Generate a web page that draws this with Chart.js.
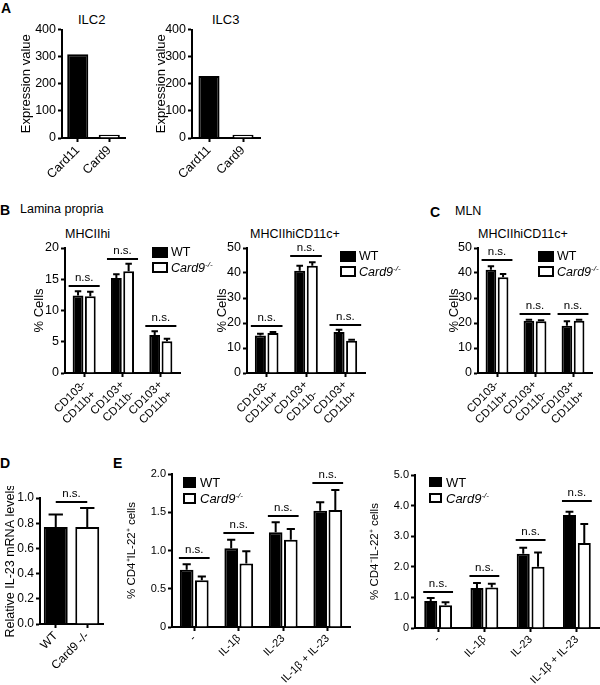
<!DOCTYPE html>
<html>
<head>
<meta charset="utf-8">
<script src="https://cdn.jsdelivr.net/npm/chart.js@4"></script>
<style>
  body { margin: 0; background: #fff; }
  #page { position: relative; width: 600px; height: 685px; overflow: hidden; font-family: "Liberation Sans", Arial, sans-serif; color: #000; }
  .box { position: absolute; }
  .txt { position: absolute; line-height: 1; white-space: nowrap; }
  .letter { font-weight: bold; font-size: 14px; }
  .sq { position: absolute; box-sizing: border-box; border: 2px solid #000; background: #fff; }
  .sq.wt { background: #000; }
  sup { font-size: 8px; vertical-align: 5px; }
</style>
</head>
<body>
<div id="page">
  <div class="txt letter" style="left:1px;top:1px">A</div>
  <div class="txt" style="left:78px;top:13px;font-size:13px">ILC2</div>
  <div class="txt" style="left:212px;top:13px;font-size:13px">ILC3</div>

  <div class="txt letter" style="left:0px;top:203px">B</div>
  <div class="txt" style="left:20px;top:203px;font-size:12.5px">Lamina propria</div>
  <div class="txt letter" style="left:430px;top:205px">C</div>
  <div class="txt" style="left:455px;top:205px;font-size:12.5px">MLN</div>
  <div class="txt" style="left:65px;top:228px;font-size:12.5px">MHCIIhi</div>
  <div class="txt" style="left:250px;top:228px;font-size:12.5px">MHCIIhiCD11c+</div>
  <div class="txt" style="left:478px;top:228px;font-size:12.5px">MHCIIhiCD11c+</div>

  <div class="txt letter" style="left:0px;top:456px">D</div>
  <div class="txt letter" style="left:113px;top:456px">E</div>

  <div class="box" style="left:0;top:20px"><canvas id="ilc2" width="130" height="170"></canvas></div>
  <div class="box" style="left:140px;top:20px"><canvas id="ilc3" width="125" height="170"></canvas></div>
  <div class="box" style="left:0;top:236px"><canvas id="lp1" width="185" height="200"></canvas></div>
  <div class="box" style="left:190px;top:236px"><canvas id="lp2" width="180" height="200"></canvas></div>
  <div class="box" style="left:420px;top:236px"><canvas id="mln" width="177" height="200"></canvas></div>
  <div class="box" style="left:0;top:486px"><canvas id="il23" width="108" height="199"></canvas></div>
  <div class="box" style="left:110px;top:462px"><canvas id="e1" width="245" height="223"></canvas></div>
  <div class="box" style="left:355px;top:463px"><canvas id="e2" width="245" height="222"></canvas></div>

  <!-- legends -->
  <div class="sq wt" style="left:152px;top:247px;width:16px;height:11px"></div>
  <div class="txt" style="left:171px;top:246px;font-size:12.5px">WT</div>
  <div class="sq" style="left:152px;top:262px;width:16px;height:11px"></div>
  <div class="txt" style="left:171px;top:261px;font-size:12.5px"><i>Card9</i><sup><i>-/-</i></sup></div>

  <div class="sq wt" style="left:340px;top:251px;width:16px;height:11px"></div>
  <div class="txt" style="left:359px;top:250px;font-size:12.5px">WT</div>
  <div class="sq" style="left:340px;top:266px;width:16px;height:11px"></div>
  <div class="txt" style="left:359px;top:265px;font-size:12.5px"><i>Card9</i><sup><i>-/-</i></sup></div>

  <div class="sq wt" style="left:538px;top:251px;width:16px;height:11px"></div>
  <div class="txt" style="left:557px;top:250px;font-size:12.5px">WT</div>
  <div class="sq" style="left:538px;top:266px;width:16px;height:11px"></div>
  <div class="txt" style="left:557px;top:265px;font-size:12.5px"><i>Card9</i><sup><i>-/-</i></sup></div>

  <div class="sq wt" style="left:183px;top:477px;width:13px;height:11px"></div>
  <div class="txt" style="left:200px;top:476px;font-size:13px">WT</div>
  <div class="sq" style="left:183px;top:493px;width:13px;height:11px"></div>
  <div class="txt" style="left:200px;top:492px;font-size:13px"><i>Card9</i><sup><i>-/-</i></sup></div>

  <div class="sq wt" style="left:429px;top:477px;width:13px;height:10px"></div>
  <div class="txt" style="left:446px;top:476px;font-size:13px">WT</div>
  <div class="sq" style="left:429px;top:493px;width:13px;height:10px"></div>
  <div class="txt" style="left:446px;top:492px;font-size:13px"><i>Card9</i><sup><i>-/-</i></sup></div>
</div>

<script>
// ---- data ----
const ilcLabels = ['Card11', 'Card9'];
const ilc2Values = [309, 12];
const ilc3Values = [229, 12];

const dcLabels = [['CD103-', 'CD11b+'], ['CD103+', 'CD11b-'], ['CD103+', 'CD11b+']];
const lpHiWT = [12.4, 15.2, 6.1];
const lpHiWTErr = [0.7, 0.6, 0.6];
const lpHiKO = [12.3, 16.3, 5.1];
const lpHiKOErr = [0.7, 1.2, 0.4];
const lpHiNs = [14.0, 18.2, 7.5];

const lpDcWT = [15.0, 40.9, 16.4];
const lpDcWTErr = [0.7, 2.0, 0.9];
const lpDcKO = [16.0, 42.9, 12.9];
const lpDcKOErr = [0.4, 1.4, 0.4];
const lpDcNs = [18.9, 46.7, 19.3];

const mlnWT = [41.3, 20.9, 18.9];
const mlnWTErr = [1.4, 0.4, 1.8];
const mlnKO = [38.3, 20.7, 20.9];
const mlnKOErr = [1.3, 0.4, 0.4];
const mlnNs = [45.3, 23.7, 23.7];

const il23Labels = ['WT', 'Card9 -/-'];
const il23Values = [0.77, 0.77];
const il23Err = [0.10, 0.15];
const il23Ns = [0.97];

const stimLabels = ['-', 'IL-1β', 'IL-23', 'IL-1β + IL-23'];
const cd4pWT = [0.75, 1.03, 1.24, 1.52];
const cd4pWTErr = [0.07, 0.11, 0.13, 0.11];
const cd4pKO = [0.61, 0.83, 1.14, 1.53];
const cd4pKOErr = [0.05, 0.16, 0.14, 0.26];
const cd4pNs = [0.90, 1.23, 1.45, 1.88];

const cd4nWT = [0.88, 1.31, 2.43, 3.69];
const cd4nWTErr = [0.10, 0.16, 0.19, 0.11];
const cd4nKO = [0.74, 1.32, 2.00, 2.78];
const cd4nKOErr = [0.10, 0.13, 0.47, 0.62];
const cd4nNs = [1.18, 1.69, 2.87, 4.15];

const FONT = '"Liberation Sans", Arial, sans-serif';

// error bars (upper half) and n.s. brackets
const extras = {
  id: 'extras',
  afterDatasetsDraw(chart, args, opts) {
    const ctx = chart.ctx;
    const y = chart.scales.y;
    ctx.save();
    ctx.strokeStyle = '#000';
    ctx.fillStyle = '#000';
    ctx.lineWidth = 2;
    chart.data.datasets.forEach((ds, i) => {
      if (!ds.err) return;
      chart.getDatasetMeta(i).data.forEach((bar, j) => {
        const top = y.getPixelForValue(ds.data[j]);
        const end = y.getPixelForValue(ds.data[j] + ds.err[j]);
        const cap = bar.width * 0.3;
        ctx.beginPath();
        ctx.moveTo(bar.x, top);
        ctx.lineTo(bar.x, end);
        ctx.moveTo(bar.x - cap, end);
        ctx.lineTo(bar.x + cap, end);
        ctx.stroke();
      });
    });
    if (opts.ns) {
      ctx.font = '11.5px ' + FONT;
      ctx.textAlign = 'center';
      ctx.textBaseline = 'bottom';
      const n = chart.data.datasets.length;
      opts.ns.forEach((v, j) => {
        let x0, x1;
        if (n === 1) {
          // single series: bracket runs between bar centres
          const bars = chart.getDatasetMeta(0).data;
          x0 = bars[0].x;
          x1 = bars[bars.length - 1].x;
        } else {
          const b0 = chart.getDatasetMeta(0).data[j];
          const b1 = chart.getDatasetMeta(n - 1).data[j];
          x0 = b0.x - b0.width / 2 - opts.ext;
          x1 = b1.x + b1.width / 2 + opts.ext;
        }
        const py = Math.round(y.getPixelForValue(v));
        ctx.beginPath();
        ctx.moveTo(x0, py);
        ctx.lineTo(x1, py);
        ctx.stroke();
        ctx.fillText('n.s.', (x0 + x1) / 2, py - 2);
      });
    }
    ctx.restore();
  }
};

function makeChart(id, o) {
  new Chart(document.getElementById(id), {
    type: 'bar',
    data: { labels: o.labels, datasets: o.datasets },
    options: {
      responsive: false,
      animation: false,
      layout: { padding: { top: o.padTop, right: o.padRight, left: 0, bottom: 0 } },
      plugins: {
        legend: { display: false },
        tooltip: { enabled: false },
        extras: { ns: o.ns, ext: o.ext || 3 }
      },
      scales: {
        x: {
          grid: { display: true, drawOnChartArea: false, offset: false, tickLength: 4, tickColor: '#000', tickWidth: 2 },
          border: { display: true, color: '#000', width: 2 },
          ticks: { autoSkip: false, minRotation: 45, maxRotation: 45, padding: 1, color: '#000', font: { family: FONT, size: o.xFont } },
          afterFit: s => { s.height = o.xH; }
        },
        y: {
          min: 0,
          max: o.max,
          grid: { display: true, drawOnChartArea: false, tickLength: 4, tickColor: '#000', tickWidth: 2 },
          border: { display: true, color: '#000', width: 2 },
          ticks: { stepSize: o.step, padding: 2, color: '#000', font: { family: FONT, size: o.yFont }, callback: o.fmt },
          title: { display: true, text: o.title, color: '#000', font: { family: FONT, size: o.titleFont }, padding: { top: o.titlePad, bottom: 0 } },
          afterFit: s => { s.width = o.yW; }
        }
      }
    },
    plugins: [extras]
  });
}

function pair(wt, wtErr, ko, koErr, catPct, barPct) {
  return [
    { data: wt, err: wtErr, backgroundColor: '#000', borderColor: '#000', borderWidth: 2, categoryPercentage: catPct, barPercentage: barPct },
    { data: ko, err: koErr, backgroundColor: '#fff', borderColor: '#000', borderWidth: 2, categoryPercentage: catPct, barPercentage: barPct }
  ];
}

const oneDec = v => v === 0 ? '0' : v.toFixed(1);

makeChart('ilc2', {
  labels: ilcLabels,
  datasets: [{ data: ilc2Values, backgroundColor: ['#000', '#fff'], borderColor: '#000', borderWidth: 2, categoryPercentage: 1, barPercentage: 0.67 }],
  max: 400, step: 100, padTop: 8, padRight: 5, yW: 62, xH: 52,
  title: 'Expression value', titleFont: 13, titlePad: 19, yFont: 12.5, xFont: 12.5
});
makeChart('ilc3', {
  labels: ilcLabels,
  datasets: [{ data: ilc3Values, backgroundColor: ['#000', '#fff'], borderColor: '#000', borderWidth: 2, categoryPercentage: 1, barPercentage: 0.62 }],
  max: 400, step: 100, padTop: 8, padRight: 5, yW: 52, xH: 52,
  title: 'Expression value', titleFont: 13, titlePad: 14, yFont: 12.5, xFont: 12.5
});

makeChart('lp1', {
  labels: dcLabels,
  datasets: pair(lpHiWT, lpHiWTErr, lpHiKO, lpHiKOErr, 0.64, 0.88),
  ns: lpHiNs, ext: 4,
  max: 20, step: 5, padTop: 12, padRight: 5, yW: 65, xH: 63,
  title: '% Cells', titleFont: 13, titlePad: 32, yFont: 12.5, xFont: 11.5
});
makeChart('lp2', {
  labels: dcLabels,
  datasets: pair(lpDcWT, lpDcWTErr, lpDcKO, lpDcKOErr, 0.64, 0.88),
  ns: lpDcNs, ext: 4,
  max: 50, step: 10, padTop: 12, padRight: 5, yW: 57, xH: 63,
  title: '% Cells', titleFont: 13, titlePad: 25, yFont: 12.5, xFont: 11.5
});
makeChart('mln', {
  labels: dcLabels,
  datasets: pair(mlnWT, mlnWTErr, mlnKO, mlnKOErr, 0.64, 0.88),
  ns: mlnNs, ext: 4,
  max: 50, step: 10, padTop: 12, padRight: 5, yW: 58, xH: 63,
  title: '% Cells', titleFont: 13, titlePad: 27, yFont: 12.5, xFont: 11.5
});

makeChart('il23', {
  labels: il23Labels,
  datasets: [{ data: il23Values, err: il23Err, backgroundColor: ['#000', '#fff'], borderColor: '#000', borderWidth: 2, categoryPercentage: 1, barPercentage: 0.76 }],
  ns: il23Ns,
  max: 1.0, step: 0.2, padTop: 12, padRight: 5, yW: 40, xH: 61,
  title: 'Relative IL-23 mRNA levels', titleFont: 12.5, titlePad: 3, yFont: 12, xFont: 12,
  fmt: v => v.toFixed(1)
});

makeChart('e1', {
  labels: stimLabels,
  datasets: pair(cd4pWT, cd4pWTErr, cd4pKO, cd4pKOErr, 0.68, 0.9),
  ns: cd4pNs, ext: 1,
  max: 2.0, step: 0.5, padTop: 12, padRight: 5, yW: 62, xH: 58,
  title: '% CD4⁺IL-22⁺ cells', titleFont: 11.5, titlePad: 15, yFont: 11, xFont: 11,
  fmt: oneDec
});
makeChart('e2', {
  labels: stimLabels,
  datasets: pair(cd4nWT, cd4nWTErr, cd4nKO, cd4nKOErr, 0.64, 0.88),
  ns: cd4nNs, ext: 1,
  max: 5.0, step: 1, padTop: 12, padRight: 0, yW: 60, xH: 57,
  title: '% CD4⁻IL-22⁺ cells', titleFont: 11.5, titlePad: 13, yFont: 11, xFont: 11,
  fmt: oneDec
});
</script>
</body>
</html>
